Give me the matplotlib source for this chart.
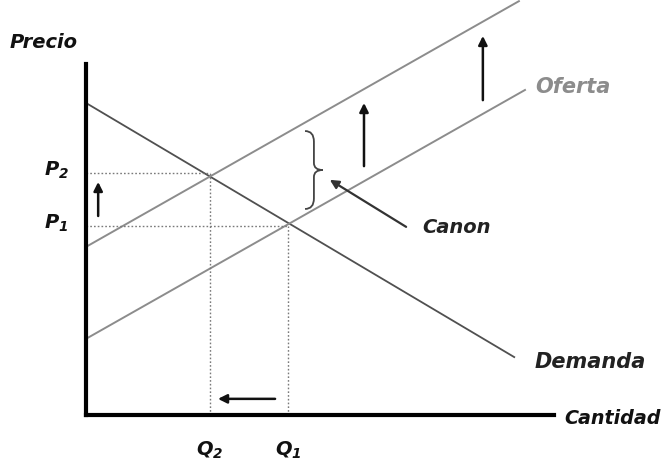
import matplotlib
matplotlib.use("Agg")
import matplotlib.pyplot as plt
from matplotlib.path import Path
from matplotlib.patches import PathPatch

plt.rcParams["mathtext.fontset"] = "custom"
plt.rcParams["mathtext.it"] = "DejaVu Sans:bold:italic"
plt.rcParams["mathtext.rm"] = "DejaVu Sans:bold:italic"
plt.rcParams["mathtext.bf"] = "DejaVu Sans:bold:italic"

# ---- data (economic units: quantity 0-100, price 0-100) ----
demand_q = [0.0, 91.5]
demand_p = [88.9, 16.5]
supply_q = [0.0, 93.8]
supply_p = [21.7, 92.6]
supply_tax_q = [0.0, 92.5]
supply_tax_p = [47.9, 117.9]
eq_q = [43.2, 26.5]   # Q1, Q2
eq_p = [53.8, 68.9]   # P1, P2
price_labels = ["$P_1$", "$P_2$"]
qty_labels = ["$Q_1$", "$Q_2$"]

# arrows: (q_start, p_start, q_end, p_end)
arrows = [
    (2.6, 56.7, 2.6, 66.4),
    (59.4, 70.9, 59.4, 88.9),
    (84.8, 89.7, 84.8, 108.0),
    (40.4, 4.6, 28.2, 4.6),
]
canon_arrow = (68.4, 53.6, 52.1, 67.0)
brace = dict(q=46.8, p_low=58.7, p_high=80.9, width=3.8)

W, H = 663, 460
fig = plt.figure(figsize=(W / 100, H / 100), dpi=100)
ax = fig.add_axes([86 / W, (H - 416) / H, 468 / W, 351 / H])
ax.set_xlim(0, 100)
ax.set_ylim(0, 100)
for s in ["top", "right"]:
    ax.spines[s].set_visible(False)
for s in ["left", "bottom"]:
    ax.spines[s].set_linewidth(3)
    ax.spines[s].set_color("black")
ax.set_xticks([])
ax.set_yticks([])
ax.patch.set_alpha(0)

ax.plot(demand_q, demand_p, color="#505050", lw=1.3, clip_on=False)
ax.plot(supply_q, supply_p, color="#8c8c8c", lw=1.4, clip_on=False)
ax.plot(supply_tax_q, supply_tax_p, color="#8c8c8c", lw=1.4, clip_on=False)

for q, p in zip(eq_q, eq_p):
    ax.plot([0, q], [p, p], color="#7a7a7a", lw=1.0, ls=(0, (1.2, 1.5)))
    ax.plot([q, q], [0, p], color="#7a7a7a", lw=1.0, ls=(0, (1.2, 1.5)))

font = dict(family="DejaVu Sans", fontweight="bold", fontstyle="italic")
for p, lab in zip(eq_p, price_labels):
    ax.text(-6.3, p + 1.0, lab, ha="center", va="center", fontsize=14,
            color="#111111", clip_on=False)
for q, lab in zip(eq_q, qty_labels):
    ax.text(q, -9.7, lab, ha="center", va="center", fontsize=14,
            color="#111111", clip_on=False)

ax.text(-9.0, 106.3, "Precio", ha="center", va="center", fontsize=14,
        color="#111111", **font)
ax.text(102.1, -0.6, "Cantidad", ha="left", va="center", fontsize=13.8,
        color="#111111", **font)
ax.text(95.9, 15.4, "Demanda", ha="left", va="center", fontsize=15,
        color="#222222", **font)
ax.text(95.9, 93.7, "Oferta", ha="left", va="center", fontsize=15,
        color="#8c8c8c", **font)
ax.text(71.8, 53.6, "Canon", ha="left", va="center", fontsize=14,
        color="#222222", **font)

for (q0, p0, q1, p1) in arrows:
    ax.annotate("", xy=(q1, p1), xytext=(q0, p0),
                arrowprops=dict(arrowstyle="-|>", lw=1.8, color="#111111",
                                mutation_scale=13, shrinkA=0, shrinkB=0),
                annotation_clip=False)
q0, p0, q1, p1 = canon_arrow
ax.annotate("", xy=(q1, p1), xytext=(q0, p0),
            arrowprops=dict(arrowstyle="-|>", lw=1.6, color="#333333",
                            mutation_scale=13, shrinkA=0, shrinkB=0))

# curly brace "}"
bq, lo, hi, w = brace["q"], brace["p_low"], brace["p_high"], brace["width"]
mid = (lo + hi) / 2
verts = [
    (bq, hi),
    (bq + w * 0.5, hi), (bq + w * 0.5, hi - 3),
    (bq + w * 0.5, mid + 2),
    (bq + w * 0.5, mid), (bq + w, mid),
    (bq + w * 0.5, mid), (bq + w * 0.5, mid - 2),
    (bq + w * 0.5, lo + 3),
    (bq + w * 0.5, lo), (bq, lo),
]
codes = [Path.MOVETO, Path.CURVE3, Path.CURVE3, Path.LINETO,
         Path.CURVE3, Path.CURVE3, Path.CURVE3, Path.CURVE3,
         Path.LINETO, Path.CURVE3, Path.CURVE3]
ax.add_patch(PathPatch(Path(verts, codes), fill=False, color="#444444", lw=1.3))

fig.savefig("out.png", dpi=100)
